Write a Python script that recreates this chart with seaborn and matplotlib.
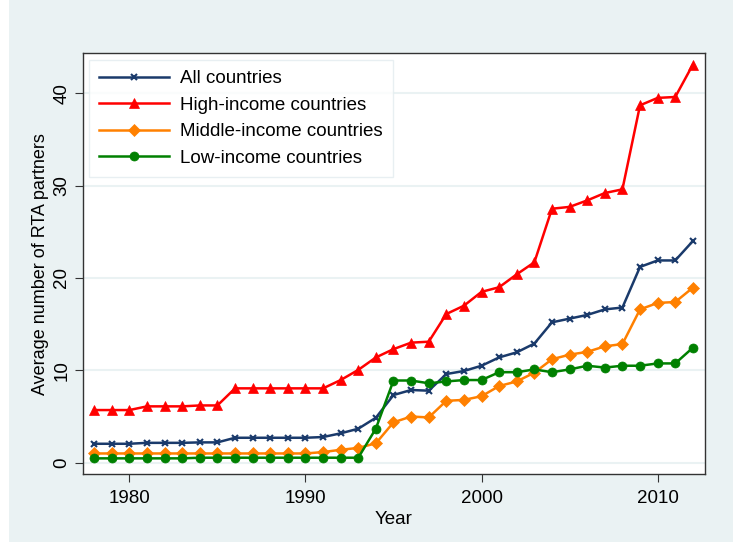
import numpy as np
import pandas as pd
import matplotlib
matplotlib.use("Agg")
import matplotlib.pyplot as plt
import seaborn as sns
from matplotlib.patches import Rectangle

years = list(range(1978, 2013))

all_countries = [2.05, 2.05, 2.05, 2.15, 2.15, 2.15, 2.2, 2.2, 2.7, 2.7,
                 2.7, 2.7, 2.7, 2.78, 3.18, 3.68, 4.87, 7.33, 7.87, 7.8,
                 9.6, 9.93, 10.5, 11.4, 11.95, 12.9, 15.2, 15.6, 16.0, 16.6,
                 16.8, 21.2, 21.9, 21.9, 24.0]
high_income = [5.7, 5.7, 5.7, 6.1, 6.1, 6.1, 6.2, 6.2, 8.05, 8.05,
               8.05, 8.05, 8.05, 8.05, 8.95, 10.05, 11.4, 12.3, 13.0, 13.1,
               16.1, 17.0, 18.5, 19.0, 20.4, 21.7, 27.5, 27.7, 28.4, 29.2,
               29.6, 38.7, 39.5, 39.6, 43.1]
middle_income = [1.0, 1.0, 1.0, 1.0, 1.0, 1.0, 1.0, 1.0, 1.0, 1.0,
                 1.0, 1.0, 1.0, 1.15, 1.4, 1.6, 2.1, 4.37, 5.0, 4.9,
                 6.7, 6.8, 7.2, 8.3, 8.8, 9.75, 11.2, 11.7, 12.0, 12.6,
                 12.85, 16.6, 17.3, 17.4, 18.95]
low_income = [0.47, 0.47, 0.47, 0.47, 0.47, 0.47, 0.54, 0.54, 0.54, 0.54,
              0.54, 0.54, 0.54, 0.54, 0.54, 0.54, 3.7, 8.9, 8.9, 8.6,
              8.8, 8.95, 8.95, 9.8, 9.8, 10.1, 9.8, 10.1, 10.5, 10.3,
              10.5, 10.5, 10.75, 10.75, 12.45]

series_names = ["All countries", "High-income countries",
                "Middle-income countries", "Low-income countries"]
x_ticks = [1980, 1990, 2000, 2010]
y_ticks = [0, 10, 20, 30, 40]

df = pd.DataFrame({
    "Year": years * 4,
    "value": all_countries + high_income + middle_income + low_income,
    "series": sum([[n] * len(years) for n in series_names], []),
})

palette = {"All countries": "#1a3a6b", "High-income countries": "#ff0000",
           "Middle-income countries": "#ff8000", "Low-income countries": "#008000"}
markers = {"All countries": "x", "High-income countries": "^",
           "Middle-income countries": "D", "Low-income countries": "o"}
msizes = {"All countries": 5, "High-income countries": 7.5,
          "Middle-income countries": 6, "Low-income countries": 6.5}

BG = "#eaf2f3"
plt.rcParams["font.family"] = ["Liberation Sans", "DejaVu Sans"]

fig = plt.figure(figsize=(7.33, 5.42), dpi=100, facecolor=BG)
fig.patches.append(Rectangle((0, 0), 9 / 733, 1, transform=fig.transFigure,
                             facecolor="white", edgecolor="none", zorder=-1))
ax = fig.add_axes([82.7 / 733, 1 - 474.3 / 542, (705 - 82.7) / 733, (474.3 - 53.3) / 542])
ax.set_facecolor("white")

for name in series_names:
    sub = df[df["series"] == name]
    sns.lineplot(data=sub, x="Year", y="value", ax=ax, color=palette[name],
                 marker=markers[name], markersize=msizes[name],
                 markeredgecolor=palette[name], markeredgewidth=1.5 if name == "All countries" else 0.5,
                 linewidth=1.8, label=name, legend=True)

ax.set_xlim(1977.35, 2012.69)
ax.set_ylim(-1.256, 44.33)
ax.set_xticks(x_ticks)
ax.set_yticks(y_ticks)
ax.set_xticklabels([str(t) for t in x_ticks], fontsize=13.5)
ax.set_yticklabels([str(t) for t in y_ticks], fontsize=13.5, rotation=90, va="center")
ax.tick_params(axis="both", direction="out", length=6, width=0.8, color="#333333")
ax.tick_params(axis="y", pad=3)
ax.tick_params(axis="x", pad=5)
ax.grid(axis="y", color=BG, linewidth=1.5)
ax.grid(axis="x", visible=False)
ax.set_axisbelow(True)
for s in ax.spines.values():
    s.set_color("#333333")
    s.set_linewidth(1.0)

ax.set_xlabel("Year", fontsize=13.5, labelpad=3)
ax.set_ylabel("Average number of RTA partners", fontsize=13, labelpad=3)

leg = ax.legend(loc="upper left", bbox_to_anchor=(0.0101, 0.984), borderaxespad=0,
                fontsize=13.5, frameon=True, fancybox=False, handlelength=3.7,
                borderpad=0.55, labelspacing=0.5, handletextpad=0.6)
leg.get_frame().set_edgecolor("#e3ecef")
leg.get_frame().set_linewidth(1.0)

fig.savefig("out.png", dpi=100, facecolor=BG)
